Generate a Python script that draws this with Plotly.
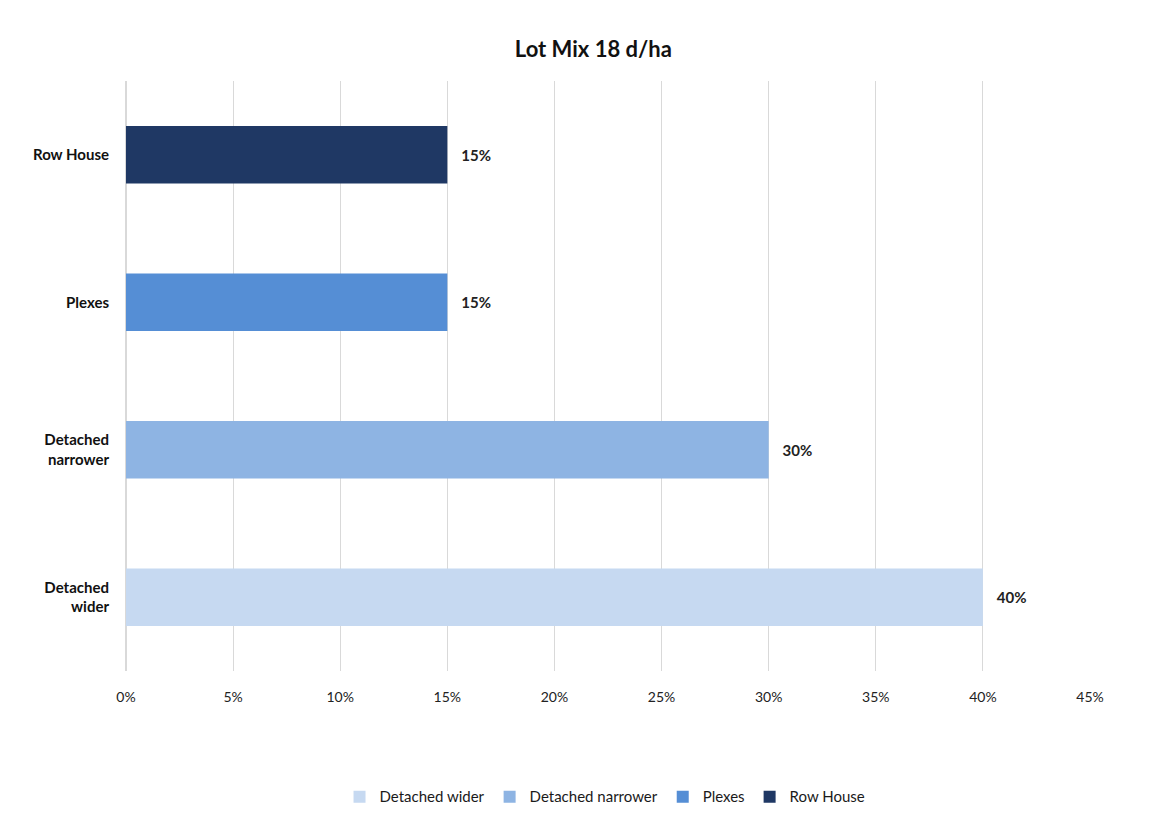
import plotly.graph_objects as go

categories = ["Detached wider", "Detached narrower", "Plexes", "Row House"]
tick_labels = ["Detached<br>wider", "Detached<br>narrower", "Plexes", "Row House"]
values = [40, 30, 15, 15]
colors = ["#C6D9F1", "#8EB4E3", "#558ED5", "#1F3864"]
x_ticks = [0, 5, 10, 15, 20, 25, 30, 35, 40, 45]
x_tick_text = ["0%", "5%", "10%", "15%", "20%", "25%", "30%", "35%", "40%", "45%"]

FONT = "Lato"

fig = go.Figure()
for cat, lab, val, col in zip(categories, tick_labels, values, colors):
    fig.add_trace(go.Bar(
        y=[lab], x=[val], name=cat, orientation="h",
        marker=dict(color=col, line=dict(width=0)),
        text=[f"   {val}%"], textposition="outside",
        textfont=dict(family=FONT, size=15, color="#222222", weight="bold"),
        cliponaxis=False, width=0.39,
    ))

fig.update_layout(
    width=1168, height=819,
    margin=dict(l=126, r=78, t=81, b=148, autoexpand=False),
    paper_bgcolor="white", plot_bgcolor="white",
    barmode="overlay",
    title=dict(text="<b>Lot Mix 18 d/ha</b>", x=0.508, xref="container", xanchor="center",
               y=0.94, yanchor="middle",
               font=dict(family=FONT, size=22, color="#111111")),
    showlegend=True,
    legend=dict(orientation="h", x=0.518, xref="container", xanchor="center",
                y=0.027, yref="container", yanchor="middle",
                font=dict(family=FONT, size=15, color="#1a1a1a"), traceorder="normal",
                itemwidth=30),
    xaxis=dict(range=[0, 45], tickmode="array", tickvals=x_ticks, ticktext=x_tick_text,
               showgrid=True,
               gridcolor="#D9D9D9", gridwidth=1, zeroline=True, zerolinecolor="#D9D9D9",
               tickfont=dict(family=FONT, size=14, color="#222222"), ticklabelstandoff=16,
               showline=False, fixedrange=True),
    yaxis=dict(categoryorder="array", categoryarray=tick_labels, showgrid=False,
               tickfont=dict(family=FONT, size=15, color="#111111", weight="bold"),
               ticklabelstandoff=16, showline=False),
)

fig.write_html("out.html")
